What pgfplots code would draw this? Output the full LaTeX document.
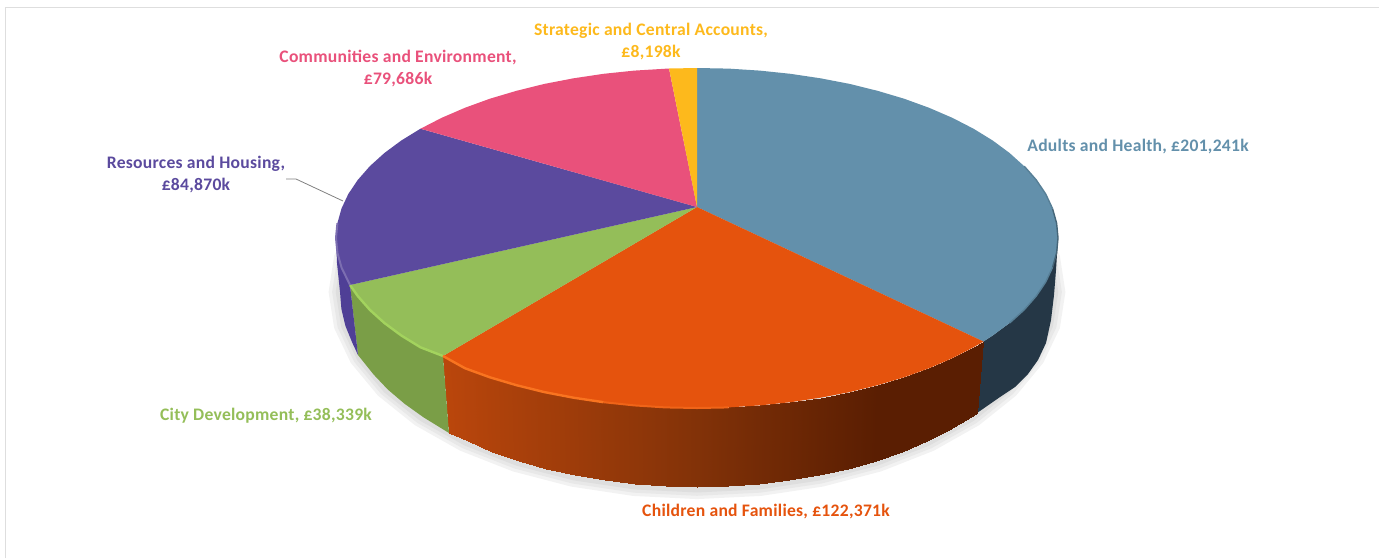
\documentclass[border=0pt]{standalone}
\usepackage{pgfplots}
\usepackage{pgfplotstable}
\pgfplotsset{compat=1.18}
\usepackage{fontspec}
\setmainfont{Carlito}[LetterSpace=1.5]

\definecolor{adults}{HTML}{6390AB}
\definecolor{adultsside}{HTML}{253746}
\definecolor{children}{HTML}{E5530D}
\definecolor{city}{HTML}{94BE59}
\definecolor{cityside}{HTML}{7A9E47}
\definecolor{resources}{HTML}{5B4A9E}
\definecolor{resourcesside}{HTML}{4F3F96}
\definecolor{communities}{HTML}{E9517B}
\definecolor{strategic}{HTML}{FDB91C}

% base of the pie, for the soft shadow
\pgfplotstableread{
x y
1054 292
1048.6 325.9
1032.5 358.7
1006.2 389.5
970.5 417.3
926.5 441.4
875.5 460.9
819.1 475.2
759 484
697 487
635 484
574.9 475.2
518.5 460.9
467.5 441.4
423.5 417.3
387.8 389.5
361.5 358.7
345.4 325.9
340 292
345.4 258
361.5 225
697 150
1032.5 225
1048.6 258
}\pieshadow

\newcommand{\lab}[4]{\node[text=#1,font=\fontsize{8.8}{11}\selectfont\bfseries,align=center] at (axis cs:#2,#3) {#4};}

\begin{document}
\begin{tikzpicture}
\begin{axis}[
    width=689.5pt,
    height=279pt,
    scale only axis,
    hide axis,
    xmin=0, xmax=1379,
    ymin=0, ymax=558,
    y dir=reverse,
    point meta min=0,
    point meta max=1,
    colormap={orangeside}{rgb255(0cm)=(186,70,12) rgb255(47cm)=(130,50,8) rgb255(80cm)=(90,30,2) rgb255(100cm)=(90,30,2)},
]
% keeps the page at the full size of the reference
\path (axis cs:0,0) rectangle (axis cs:1379,558);

% frame
\addplot[color=black!13, line width=0.8pt] coordinates {(5.5,558) (5.5,7.5) (1379,7.5)};

% shadow
\addplot[fill=black!5, draw=none] table[x expr=697+(\thisrow{x}-697)*1.032, y expr=292+(\thisrow{y}-292)*1.062] {\pieshadow} -- cycle;
\addplot[fill=black!9, draw=none] table[x expr=697+(\thisrow{x}-697)*1.022, y expr=292+(\thisrow{y}-292)*1.045] {\pieshadow} -- cycle;
\addplot[fill=black!13, draw=none] table[x expr=697+(\thisrow{x}-697)*1.012, y expr=292+(\thisrow{y}-292)*1.028] {\pieshadow} -- cycle;

% sides
\addplot[fill=adultsside, draw=none] coordinates {
(1058,238) (1056.6,252.8) (1052.5,267.5) (1045.7,282) (1036.2,296.1) (1024.2,309.8) (1009.6,323) (992.7,335.5) (983.4,341.5)
(977,413) (1000,397) (1015,387) (1028,374) (1038,360) (1046,343) (1051,320) (1054,295) (1056,270)} -- cycle;
\addplot[surf, shader=interp, mesh/rows=2, point meta=explicit] table[meta=c] {
x y c
443 356 0
464.9 368.2 .04
489.9 377.3 .09
516.5 385.2 .14
544.4 392.1 .19
573.5 397.7 .24
603.6 402.2 .30
634.3 405.4 .35
665.5 407.4 .41
697 408 .47
728.5 407.4 .53
759.7 405.4 .59
790.4 402.2 .64
820.5 397.7 .70
849.6 392.1 .75
877.5 385.2 .80
904.1 377.3 .85
929.1 368.2 .90
952.3 358.2 .94
973.5 347.3 .98
983.4 341.5 1
449 433 0
467.5 441.4 .04
492.2 451.7 .09
518.5 460.9 .14
546.1 468.7 .19
574.9 475.2 .24
604.6 480.4 .30
635 484 .35
665.9 486.3 .41
697 487 .47
728.1 486.3 .53
759 484 .59
789.4 480.4 .64
819.1 475.2 .70
847.9 468.7 .75
875.5 460.9 .80
901.8 451.7 .85
926.5 441.4 .90
949.4 429.9 .94
970.5 417.3 .98
977 413 1
};
\addplot[fill=cityside, draw=none] coordinates {
(350,285) (357.8,296.1) (369.8,309.8) (384.4,323) (401.3,335.5) (420.5,347.3) (443,356)
(449,433) (423.5,417.3) (404.6,403.8) (387.8,389.5) (373.5,374.4) (358,355)} -- cycle;
\addplot[fill=resourcesside, draw=none] coordinates {
(336,238) (337.4,252.8) (341.5,267.5) (350,285) (358,355) (352.2,342.5) (345.4,325.9) (341.4,309) (340,292) (337,263)} -- cycle;

% top faces
\addplot[fill=adults, draw=none] coordinates {
(697,207) (697,68) (728.5,68.6) (759.7,70.6) (790.4,73.8) (820.5,78.3) (849.6,83.9) (877.5,90.8) (904.1,98.7) (929.1,107.8)
(952.3,117.8) (973.5,128.7) (992.7,140.5) (1009.6,153) (1024.2,166.2) (1036.2,179.9) (1045.7,194) (1052.5,208.5) (1056.6,223.2)
(1058,238) (1056.6,252.8) (1052.5,267.5) (1045.7,282) (1036.2,296.1) (1024.2,309.8) (1009.6,323) (992.7,335.5) (983.4,341.5)} -- cycle;
\addplot[fill=children, draw=none] coordinates {
(697,207) (983.4,341.5) (973.5,347.3) (952.3,358.2) (929.1,368.2) (904.1,377.3) (877.5,385.2) (849.6,392.1) (820.5,397.7)
(790.4,402.2) (759.7,405.4) (728.5,407.4) (697,408) (665.5,407.4) (634.3,405.4) (603.6,402.2) (573.5,397.7) (544.4,392.1)
(516.5,385.2) (489.9,377.3) (464.9,368.2) (443,356)} -- cycle;
\addplot[fill=city, draw=none] coordinates {
(697,207) (443,356) (420.5,347.3) (401.3,335.5) (384.4,323) (369.8,309.8) (357.8,296.1) (350,285)} -- cycle;
\addplot[fill=resources, draw=none] coordinates {
(697,207) (350,285) (341.5,267.5) (337.4,252.8) (336,238) (337.4,223.2) (341.5,208.5) (348.3,194) (357.8,179.9) (369.8,166.2)
(384.4,153) (401.3,140.5) (420.5,128.7)} -- cycle;
\addplot[fill=communities, draw=none] coordinates {
(697,207) (420.5,128.7) (441.7,117.8) (464.9,107.8) (489.9,98.7) (516.5,90.8) (544.4,83.9) (573.5,78.3) (603.6,73.8)
(634.3,70.6) (669,68.5)} -- cycle;
\addplot[fill=strategic, draw=none] coordinates {(697,207) (669,68.5) (697,68)} -- cycle;

% lit and shaded rims
\addplot[color=black!30!adults, line width=0.7pt] coordinates {
(1052.5,208.5) (1056.6,223.2) (1058,238) (1056.6,252.8) (1052.5,267.5)};
\addplot[color=black!12!adults, line width=0.7pt] coordinates {
(1024.2,166.2) (1036.2,179.9) (1045.7,194) (1052.5,208.5)};
\addplot[color=black!12!adults, line width=0.7pt] coordinates {
(1052.5,267.5) (1045.7,282) (1036.2,296.1) (1024.2,309.8) (1009.6,323)};
\addplot[color={rgb,255:red,163;green,211;blue,94}, line width=1.2pt] coordinates {
(350,285) (357.8,296.1) (369.8,309.8) (384.4,323) (401.3,335.5) (420.5,347.3) (443,356)};
\addplot[color={rgb,255:red,249;green,116;blue,32}, line width=1.2pt] coordinates {
(443,356) (464.9,368.2) (489.9,377.3) (516.5,385.2) (544.4,392.1) (573.5,397.7) (603.6,402.2)};
\addplot[color={rgb,255:red,240;green,100;blue,24}, line width=1pt] coordinates {
(603.6,402.2) (634.3,405.4) (665.5,407.4) (697,408) (728.5,407.4)};
\addplot[color=resources!80!white, line width=1pt] coordinates {
(350,285) (341.5,267.5) (337.4,252.8) (336,238) (337.4,223.2)};

% leader line
\addplot[color=black!50, line width=0.4pt] coordinates {(286,179) (296,179) (343,201)};

\lab{adults}{1138}{147}{Adults and Health, £201,241k}
\lab{children}{766}{512}{Children and Families, £122,371k}
\lab{city}{266}{416}{City Development, £38,339k}
\lab{resources}{196}{175}{Resources and Housing,\\£84,870k}
\lab{communities}{398}{68}{Communities and Environment,\\£79,686k}
\lab{strategic}{651}{42}{Strategic and Central Accounts,\\£8,198k}
\end{axis}
\end{tikzpicture}
\end{document}
